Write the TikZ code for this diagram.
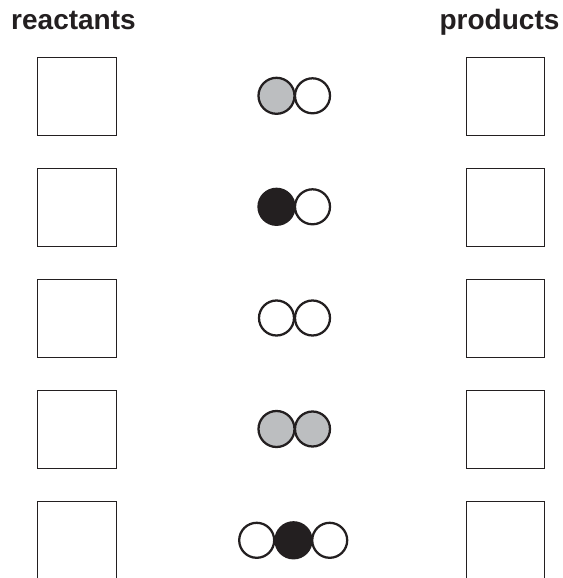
\documentclass[tikz,border=0pt]{standalone}
\usepackage{fontspec}
\setmainfont{Liberation Sans}
\definecolor{ink}{HTML}{231F20}
\definecolor{midgrey}{HTML}{BCBEC0}
\tikzset{
  heading/.style={font=\fontsize{21pt}{24pt}\selectfont\bfseries,text=ink,inner sep=0pt,anchor=base},
  boxline/.style={draw=ink,line width=0.65pt},
  atom/.style={draw=ink,line width=1.7pt,fill=white},
  atomgrey/.style={atom,fill=midgrey},
  atomblack/.style={atom,fill=ink}
}
\begin{document}
\begin{tikzpicture}[x=0.75pt,y=-0.75pt]
\useasboundingbox (0,0) rectangle (563,578);
\node[heading] (reactants) at (73.5,29.5) {reactants};
\node[heading] (products) at (499.5,29.5) {products};
\foreach \y in {57,168,279,390} {
  \draw[boxline] (37,\y) rectangle (116,\y+78.5);
  \draw[boxline] (466,\y) rectangle (544.5,\y+78.5);
}
\draw[boxline] (37,578) -- (37,501.5) -- (116,501.5) -- (116,578);
\draw[boxline] (466,578) -- (466,501.5) -- (544.5,501.5) -- (544.5,578);
% row 1
\draw[atom] (312.5,95.8) circle (17.5);
\draw[atomgrey] (276.5,95.8) circle (18);
% row 2
\draw[atom] (312.5,206.8) circle (17.5);
\draw[atomblack] (276.5,206.8) circle (18);
% row 3
\draw[atom] (312.5,318) circle (17.5);
\draw[atom] (276.5,318) circle (17.5);
% row 4
\draw[atomgrey] (312.5,429) circle (17.5);
\draw[atomgrey] (276.5,429) circle (18);
% row 5
\draw[atom] (256.7,540.3) circle (17.5);
\draw[atom] (329.7,540.3) circle (17.5);
\draw[atomblack] (293.5,540.3) circle (18);
\end{tikzpicture}
\end{document}
